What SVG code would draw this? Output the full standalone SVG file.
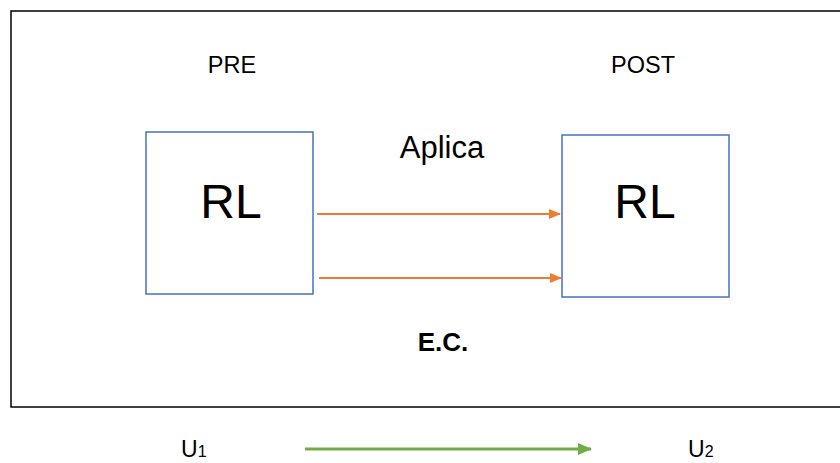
<svg xmlns="http://www.w3.org/2000/svg" width="840" height="463" viewBox="0 0 840 463">
<style>
text{font-family:"Liberation Sans",Arial,sans-serif;fill:#000}
.box{fill:#fff;stroke:#4472c4;stroke-width:1.5}
.o{stroke:#ed7d31;stroke-width:2;fill:none}
.g{stroke:#70ad47;stroke-width:3;fill:none}
</style>
<defs>
<marker id="ao" markerWidth="12" markerHeight="10" refX="11" refY="5" orient="auto" markerUnits="userSpaceOnUse"><path d="M0,0 L12,5 L0,10 z" fill="#ed7d31"/></marker>
<marker id="ag" markerWidth="14" markerHeight="12" refX="13" refY="6" orient="auto" markerUnits="userSpaceOnUse"><path d="M0,0 L14,6 L0,12 z" fill="#70ad47"/></marker>
</defs>
<rect width="840" height="463" fill="#fff"/>
<rect id="frame" x="11" y="11" width="840" height="396" fill="none" stroke="#000" stroke-width="1.5"/>
<text x="232" y="73" font-size="23.5" text-anchor="middle">PRE</text>
<text x="643" y="73" font-size="23.5" text-anchor="middle">POST</text>
<text x="442" y="158" font-size="31" text-anchor="middle">Aplica</text>
<text x="443" y="351" font-size="26" font-weight="bold" text-anchor="middle">E.C.</text>
<g id="pre">
<rect class="box" x="146" y="132" width="167" height="162"/>
<text x="231" y="218" font-size="48" text-anchor="middle">RL</text>
</g>
<g id="post">
<rect class="box" x="562" y="135" width="167" height="162"/>
<text x="645" y="218" font-size="48" text-anchor="middle">RL</text>
</g>
<g id="connectors">
<line class="o" x1="317" y1="214" x2="560" y2="214" marker-end="url(#ao)"/>
<line class="o" x1="319" y1="278" x2="561" y2="278" marker-end="url(#ao)"/>
<line class="g" x1="305" y1="449" x2="591" y2="449" marker-end="url(#ag)"/>
</g>
<g id="u1"><text x="181" y="457" font-size="23">U<tspan font-size="16">1</tspan></text></g>
<g id="u2"><text x="688" y="457" font-size="23">U<tspan font-size="16">2</tspan></text></g>
</svg>
